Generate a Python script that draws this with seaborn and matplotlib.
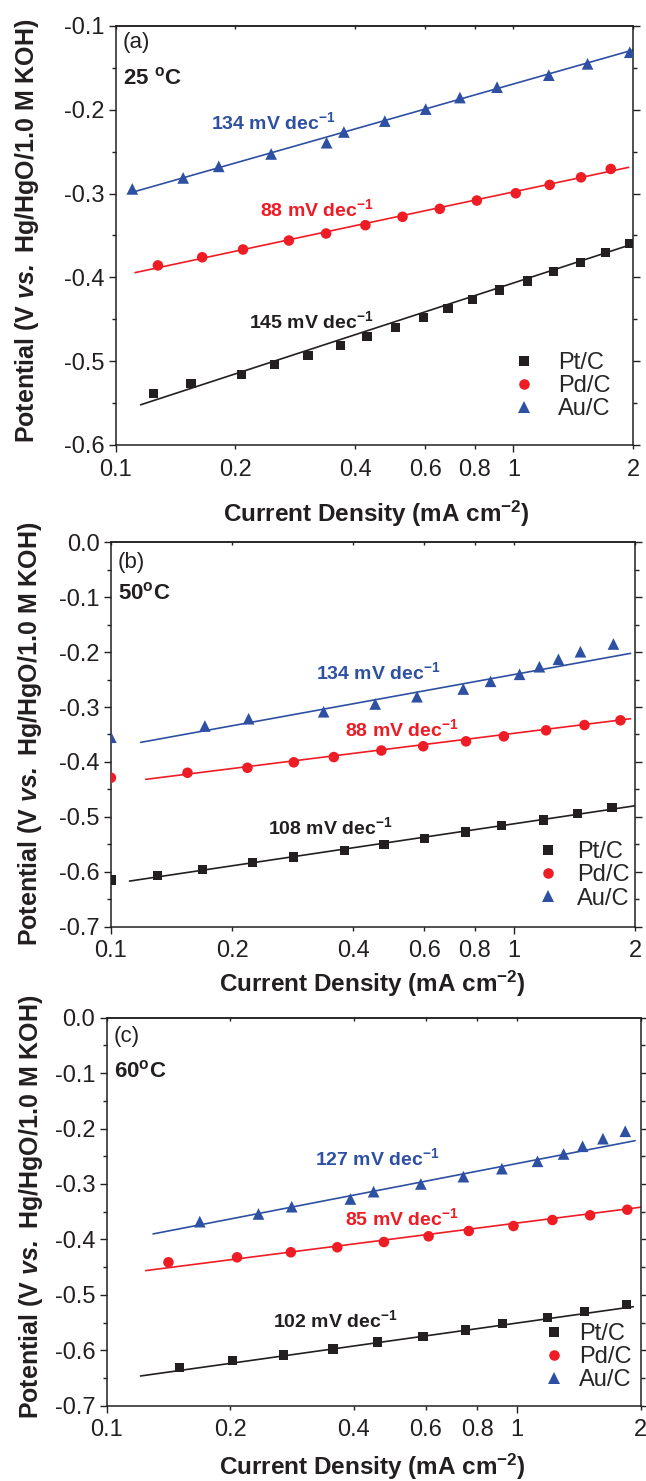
import numpy as np
import pandas as pd
import matplotlib
matplotlib.use("Agg")
import matplotlib.pyplot as plt
import seaborn as sns
from matplotlib.ticker import FixedLocator, FixedFormatter, MultipleLocator, FuncFormatter
from matplotlib.lines import Line2D

# ---------------- data ----------------
# Panel (a) 25 °C
a_pt_x = [0.1246, 0.1545, 0.2074, 0.2512, 0.3043, 0.3675, 0.4283, 0.5053, 0.5933, 0.6849,
          0.7885, 0.9235, 1.084, 1.261, 1.472, 1.705, 1.963]
a_pt_y = [-0.5381, -0.5266, -0.5158, -0.5044, -0.4929, -0.4813, -0.4706, -0.4599, -0.4480, -0.4369,
          -0.4262, -0.4151, -0.4044, -0.3925, -0.3818, -0.3706, -0.3595]
a_pd_x = [0.1276, 0.1649, 0.2089, 0.2725, 0.338, 0.4244, 0.5262, 0.6529, 0.8094, 1.014, 1.234, 1.480, 1.758]
a_pd_y = [-0.3857, -0.3760, -0.3667, -0.3560, -0.3476, -0.3377, -0.3277, -0.3182, -0.3083, -0.2996,
          -0.2896, -0.2806, -0.2706]
a_au_x = [0.110, 0.1477, 0.1815, 0.2459, 0.339, 0.3747, 0.4749, 0.6019, 0.7338, 0.910, 1.228, 1.537, 1.963]
a_au_y = [-0.2944, -0.2813, -0.2675, -0.2527, -0.2393, -0.2265, -0.2135, -0.1992, -0.1854, -0.1730,
          -0.1587, -0.1452, -0.1313]

# Panel (b) 50 °C
b_pt_x = [0.1, 0.1306, 0.1684, 0.2245, 0.2844, 0.3793, 0.4761, 0.599, 0.7601, 0.9335, 1.186, 1.439, 1.754]
b_pt_y = [-0.615, -0.6073, -0.5956, -0.5836, -0.5732, -0.5610, -0.5501, -0.5399, -0.5277, -0.5162,
          -0.5058, -0.4944, -0.4827]
b_pd_x = [0.1, 0.1549, 0.2182, 0.2844, 0.3576, 0.4692, 0.5961, 0.7612, 0.945, 1.203, 1.498, 1.840]
b_pd_y = [-0.4288, -0.4197, -0.4106, -0.4007, -0.3911, -0.3792, -0.3714, -0.3625, -0.3534, -0.3424,
          -0.3328, -0.3242]
b_au_x = [0.1, 0.1711, 0.2197, 0.3373, 0.4529, 0.5752, 0.7493, 0.8759, 1.034, 1.158, 1.291, 1.464, 1.768]
b_au_y = [-0.355, -0.3346, -0.3213, -0.3086, -0.2945, -0.2812, -0.2672, -0.2532, -0.2404, -0.2266,
          -0.2131, -0.1993, -0.1852]

# Panel (c) 60 °C
c_pt_x = [0.1501, 0.2025, 0.2695, 0.3561, 0.4567, 0.5899, 0.7489, 0.9231, 1.186, 1.459, 1.853]
c_pt_y = [-0.6307, -0.6188, -0.6085, -0.5977, -0.5851, -0.5755, -0.5634, -0.5520, -0.5412, -0.5297, -0.5171]
c_pd_x = [0.1414, 0.2078, 0.281, 0.3647, 0.4738, 0.6089, 0.763, 0.9806, 1.22, 1.507, 1.857]
c_pd_y = [-0.4413, -0.4323, -0.4232, -0.4142, -0.4047, -0.3944, -0.3848, -0.3758, -0.3650, -0.3565, -0.3464]
c_au_x = [0.1686, 0.2344, 0.2824, 0.3926, 0.4472, 0.583, 0.7402, 0.9186, 1.122, 1.299, 1.445, 1.62, 1.836]
c_au_y = [-0.3680, -0.3541, -0.3410, -0.3271, -0.3139, -0.3000, -0.2868, -0.2724, -0.2591, -0.2459,
          -0.2320, -0.2183, -0.2049]

# Tafel fits: (x start, x end, slope V/dec, potential at 1 mA cm-2)
a_fits = {"Pt/C": (0.1154, 2.0, 0.1550, -0.4067),
          "Pd/C": (0.1118, 1.95, 0.1012, -0.2980),
          "Au/C": (0.110, 2.0, 0.1348, -0.1692)}
b_fits = {"Pt/C": (0.1112, 2.0, 0.1093, -0.5127),
          "Pd/C": (0.1220, 1.95, 0.0917, -0.3479),
          "Au/C": (0.1186, 1.95, 0.1333, -0.2409)}
c_fits = {"Pt/C": (0.1209, 1.92, 0.1041, -0.5509),
          "Pd/C": (0.1244, 2.0, 0.0948, -0.3705),
          "Au/C": (0.1297, 1.94, 0.1432, -0.2631)}

# Tafel slope labels (mV dec-1) and their anchor (x, y) in data units
a_slopes = {"Pt/C": ("145", 0.2161, -0.452), "Pd/C": ("88", 0.2305, -0.319), "Au/C": ("134", 0.1733, -0.2151)}
b_slopes = {"Pt/C": ("108", 0.2456, -0.5191), "Pd/C": ("88", 0.3821, -0.3401), "Au/C": ("134", 0.3237, -0.2357)}
c_slopes = {"Pt/C": ("102", 0.2542, -0.5454), "Pd/C": ("85", 0.3819, -0.3619), "Au/C": ("127", 0.3224, -0.2537)}

catalysts = ["Pt/C", "Pd/C", "Au/C"]
temps = ["25 $^{\\mathbf{o}}$C", "50$^{\\mathbf{o}}$C", "60$^{\\mathbf{o}}$C"]
panel_tags = ["(a)", "(b)", "(c)"]
xtick_major = [0.1, 1]
xtick_major_labels = ["0.1", "1"]
xtick_minor = [0.2, 0.4, 0.6, 0.8, 2]
xtick_minor_labels = ["0.2", "0.4", "0.6", "0.8", "2"]

# ---------------- style ----------------
sns.set_theme(style="ticks")
plt.rcParams["font.family"] = ["Liberation Sans", "DejaVu Sans"]
plt.rcParams["mathtext.fontset"] = "custom"
plt.rcParams["mathtext.rm"] = "Liberation Sans"
plt.rcParams["mathtext.it"] = "Liberation Sans:italic"
plt.rcParams["mathtext.bf"] = "Liberation Sans:bold"
try:
    plt.rcParams["mathtext.bfit"] = "Liberation Sans:bold:italic"
    BFIT = True
except Exception:
    BFIT = False
plt.rcParams["axes.unicode_minus"] = False

colors = {"Pt/C": "#231F20", "Pd/C": "#EE1C25", "Au/C": "#2E50A2"}
markers = {"Pt/C": "s", "Pd/C": "o", "Au/C": "^"}
msize = {"Pt/C": 6.6, "Pd/C": 7.6, "Au/C": 8.4}
leg_msize = {"Pt/C": 7.2, "Pd/C": 7.6, "Au/C": 8.6}

fig = plt.figure(figsize=(6.46, 14.81), dpi=100)

panels = [
    dict(rect=[0.1793, 0.69953, 0.8006, 0.28292], ylim=(-0.6, -0.1),
         data={"Pt/C": (a_pt_x, a_pt_y), "Pd/C": (a_pd_x, a_pd_y), "Au/C": (a_au_x, a_au_y)},
         fits=a_fits, slopes=a_slopes, ylab=(-0.171, 0.511), xlab=(0.503, -0.165),
         tag_y=0.96, temp_y=0.876, leg=(0.7664, 0.2222), htp=0.95),
    dict(rect=[0.1717, 0.37428, 0.8113, 0.25956], ylim=(-0.7, 0.0),
         data={"Pt/C": (b_pt_x, b_pt_y), "Pd/C": (b_pd_x, b_pd_y), "Au/C": (b_au_x, b_au_y)},
         fits=b_fits, slopes=b_slopes, ylab=(-0.155, 0.501), xlab=(0.499, -0.149),
         tag_y=0.947, temp_y=0.867, leg=(0.812, 0.2224), htp=0.72),
    dict(rect=[0.1652, 0.05085, 0.8263, 0.26199], ylim=(-0.7, 0.0),
         data={"Pt/C": (c_pt_x, c_pt_y), "Pd/C": (c_pd_x, c_pd_y), "Au/C": (c_au_x, c_au_y)},
         fits=c_fits, slopes=c_slopes, ylab=(-0.142, 0.513), xlab=(0.497, -0.158),
         tag_y=0.951, temp_y=0.861, leg=(0.8166, 0.2134), htp=0.55),
]

ylabel = ("Potential (V $\\mathbfit{vs.}$ Hg/HgO/1.0 M KOH)" if BFIT
          else "Potential (V $\\mathit{vs.}$ Hg/HgO/1.0 M KOH)")
xlabel = "Current Density (mA cm$^{\\mathbf{-2}}$)"

for i, p in enumerate(panels):
    ax = fig.add_axes(p["rect"])
    for cat in catalysts:
        x0, x1, slope, e1 = p["fits"][cat]
        fx = np.array([x0, x1])
        fy = e1 + slope * np.log10(fx)
        sns.lineplot(x=fx, y=fy, ax=ax, color=colors[cat], linewidth=1.2, legend=False)
    for cat in catalysts:
        xs, ys = p["data"][cat]
        df = pd.DataFrame({"j": xs, "E": ys})
        sns.scatterplot(data=df, x="j", y="E", ax=ax, color=colors[cat], marker=markers[cat],
                        s=msize[cat] ** 2, edgecolor="none", linewidth=0, zorder=3, legend=False)
    for cat in catalysts:
        val, tx, ty = p["slopes"][cat]
        ax.text(tx, ty, val + " mV dec$^{\\mathbf{-1}}$", color=colors[cat], fontsize=14,
                fontweight="bold", ha="left", va="center")

    ax.set_xscale("log")
    ax.set_xlim(0.1, 2)
    ax.set_ylim(*p["ylim"])
    ax.xaxis.set_major_locator(FixedLocator(xtick_major))
    ax.xaxis.set_major_formatter(FixedFormatter(xtick_major_labels))
    ax.xaxis.set_minor_locator(FixedLocator(xtick_minor))
    ax.xaxis.set_minor_formatter(FixedFormatter(xtick_minor_labels))
    ax.yaxis.set_major_locator(MultipleLocator(0.1))
    ax.yaxis.set_minor_locator(MultipleLocator(0.05))
    ax.yaxis.set_major_formatter(FuncFormatter(lambda v, pos: f"{round(v, 1) + 0.0:.1f}"))

    for s in ax.spines.values():
        s.set_visible(True)
        s.set_linewidth(1.1)
        s.set_color("#231F20")
    ax.tick_params(axis="x", which="major", direction="out", length=4.8, width=1.0,
                   labelsize=17, pad=5.0, colors="#231F20")
    ax.tick_params(axis="x", which="minor", direction="out", length=3.0, width=1.0,
                   labelsize=17, pad=6.8, colors="#231F20")
    ax.tick_params(axis="y", which="major", direction="out", length=4.8, width=1.0,
                   labelsize=17, pad=3.5, right=True, colors="#231F20")
    ax.tick_params(axis="y", which="minor", direction="out", length=2.8, width=1.0,
                   right=True, colors="#231F20")
    sec = ax.secondary_xaxis("top")
    sec.xaxis.set_major_locator(FixedLocator(xtick_major + xtick_minor))
    sec.xaxis.set_minor_locator(FixedLocator([]))
    sec.tick_params(direction="in", length=2.5, width=1.0, labeltop=False, colors="#231F20")
    sec.spines["top"].set_linewidth(1.1)

    ax.set_xlabel(xlabel, fontsize=17.5, fontweight="bold", color="#231F20")
    ax.xaxis.set_label_coords(*p["xlab"])
    ax.xaxis.label.set_va("center")
    ax.set_ylabel(ylabel, fontsize=18, fontweight="bold", color="#231F20")
    ax.yaxis.set_label_coords(*p["ylab"])
    ax.yaxis.label.set_va("center")

    ax.text(0.013, p["tag_y"], panel_tags[i], transform=ax.transAxes, fontsize=16,
            ha="left", va="center", color="#231F20")
    ax.text(0.013, p["temp_y"], temps[i], transform=ax.transAxes, fontsize=16,
            fontweight="bold", ha="left", va="center", color="#231F20")

    handles = [Line2D([], [], ls="none", marker=markers[c], color=colors[c],
                      markersize=leg_msize[c], markeredgewidth=0) for c in catalysts]
    ax.legend(handles, catalysts, loc="upper left", bbox_to_anchor=p["leg"],
              frameon=False, fontsize=17, handlelength=1.0, handletextpad=p["htp"],
              labelspacing=0.05, borderpad=0, borderaxespad=0)

fig.savefig("out.png", dpi=100)
